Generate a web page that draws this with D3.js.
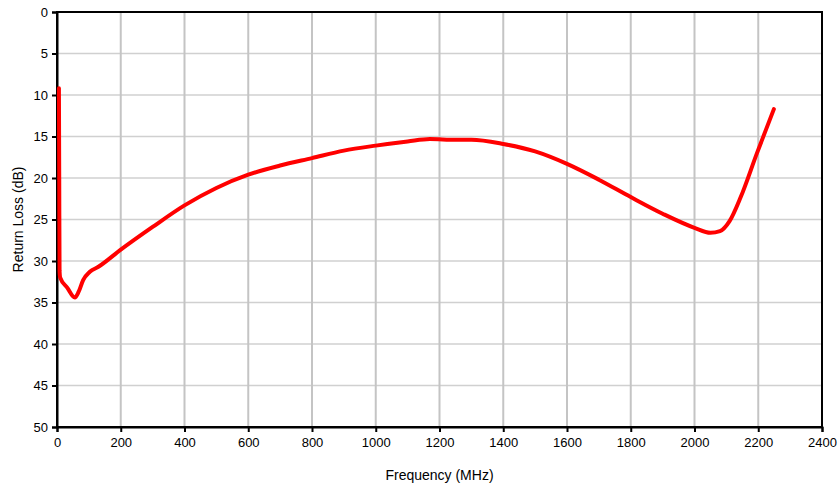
<!DOCTYPE html>
<html>
<head>
<meta charset="utf-8">
<script src="https://cdn.jsdelivr.net/npm/d3@7"></script>
<style>
  body { margin: 0; background: #fff; }
  text { font-family: "Liberation Sans", Arial, sans-serif; }
</style>
</head>
<body>
<div id="chart"></div>
<script>
// data
var freq = [6, 7, 8, 10, 32, 56, 68, 82, 103, 130, 198, 300, 400, 500, 600, 700, 800, 900, 1000, 1100, 1170, 1250, 1300, 1400, 1500, 1600, 1700, 1800, 1900, 2000, 2050, 2080, 2110, 2145, 2196, 2249];
var loss = [9.2, 20, 31.2, 32.0, 33.2, 34.4, 33.7, 32.3, 31.3, 30.7, 28.7, 25.9, 23.3, 21.2, 19.6, 18.5, 17.6, 16.7, 16.1, 15.6, 15.3, 15.4, 15.4, 15.9, 16.8, 18.3, 20.2, 22.3, 24.3, 26.0, 26.6, 26.4, 25.2, 22.3, 17.0, 11.7];
var xTicks = d3.range(0, 2401, 200);
var yTicks = d3.range(0, 51, 5);

var margin = {top: 12, right: 16, bottom: 62, left: 57},
    width = 838 - margin.left - margin.right,
    height = 489 - margin.top - margin.bottom;

var svg = d3.select("#chart")
    .append("svg")
    .attr("width", 838)
    .attr("height", 489)
    .append("g")
    .attr("transform", "translate(" + margin.left + "," + margin.top + ")");

var x = d3.scaleLinear().domain([0, 2400]).range([0, width]);
var y = d3.scaleLinear().domain([0, 50]).range([0, height]);

// gridlines
svg.append("g").selectAll("line")
    .data(yTicks.slice(1, -1))
    .enter().append("line")
    .attr("x1", 0).attr("x2", width)
    .attr("y1", function(d) { return y(d); })
    .attr("y2", function(d) { return y(d); })
    .attr("stroke", "#d0d0d0")
    .attr("stroke-width", 1.5);

svg.append("g").selectAll("line")
    .data(xTicks.slice(1, -1))
    .enter().append("line")
    .attr("y1", 0).attr("y2", height)
    .attr("x1", function(d) { return x(d); })
    .attr("x2", function(d) { return x(d); })
    .attr("stroke", "#c4c4c4")
    .attr("stroke-width", 2);

// frame
svg.append("rect")
    .attr("width", width).attr("height", height)
    .attr("fill", "none")
    .attr("stroke", "#000")
    .attr("stroke-width", 2);

// axes
var xAxis = svg.append("g")
    .attr("transform", "translate(0," + height + ")")
    .call(d3.axisBottom(x).tickValues(xTicks).tickSize(5).tickPadding(6).tickFormat(d3.format("d")));
var yAxis = svg.append("g")
    .call(d3.axisLeft(y).tickValues(yTicks).tickSize(5).tickPadding(4));

[xAxis, yAxis].forEach(function(a) {
  a.select(".domain").attr("stroke", "#000").attr("stroke-width", 2);
  a.selectAll(".tick line").attr("stroke", "#000").attr("stroke-width", 2);
  a.selectAll(".tick text").attr("font-size", 13).attr("fill", "#000")
    .attr("font-family", "Liberation Sans, Arial, sans-serif");
});

// curve
var pts = freq.map(function(f, i) { return [f, loss[i]]; });
svg.append("path")
    .datum(pts)
    .attr("fill", "none")
    .attr("stroke", "#ff0000")
    .attr("stroke-width", 4)
    .attr("stroke-linejoin", "round")
    .attr("stroke-linecap", "round")
    .attr("d", d3.line()
        .curve(d3.curveMonotoneX)
        .x(function(d) { return x(d[0]); })
        .y(function(d) { return y(d[1]); }));

// axis titles
svg.append("text")
    .attr("x", width / 2)
    .attr("y", height + 53)
    .attr("text-anchor", "middle")
    .attr("font-size", 14)
    .text("Frequency (MHz)");

svg.append("text")
    .attr("transform", "rotate(-90)")
    .attr("x", -height / 2)
    .attr("y", -34)
    .attr("text-anchor", "middle")
    .attr("font-size", 14)
    .text("Return Loss (dB)");
</script>
</body>
</html>
